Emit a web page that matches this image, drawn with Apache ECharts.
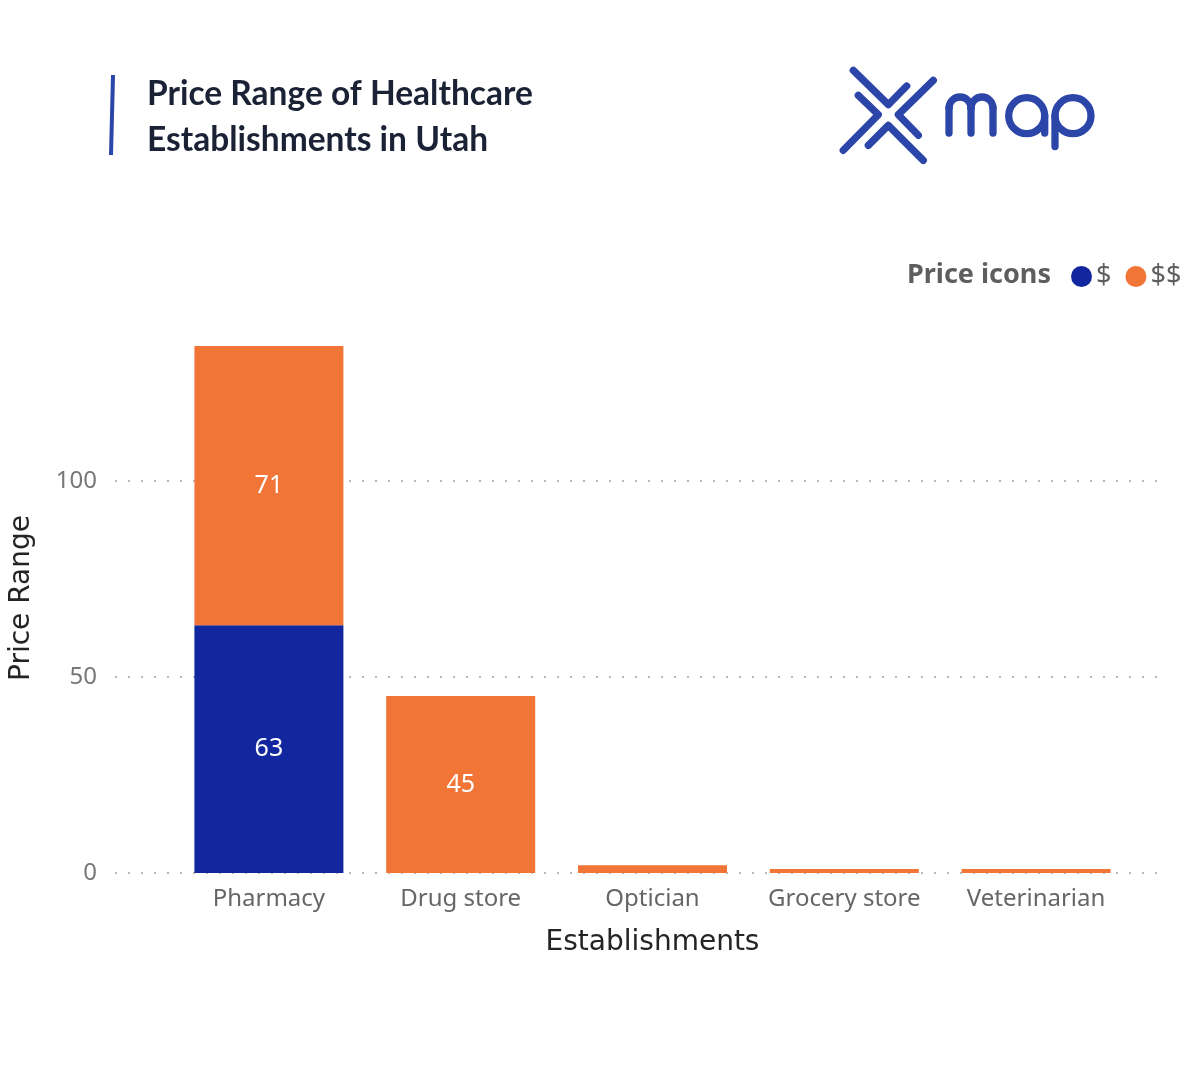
<!DOCTYPE html>
<html>
<head>
<meta charset="utf-8">
<script src="https://cdn.jsdelivr.net/npm/echarts@6/dist/echarts.min.js"></script>
<style>
html,body{margin:0;padding:0;background:#fff;}
#chart{width:1200px;height:1080px;}
</style>
</head>
<body>
<div id="chart"></div>
<script>
const categories = ['Pharmacy', 'Drug store', 'Optician', 'Grocery store', 'Veterinarian'];
const cheapValues = [63, null, null, null, null];      // "$"
const moderateValues = [71, 45, 2, 1, 1];              // "$$"
const yTickValues = [0, 50, 100];
const seriesNames = ['$', '$$'];

const BLUE = '#12279f';
const ORANGE = '#f07536';
const LOGO = '#2b45a8';

const chart = echarts.init(document.getElementById('chart'), null, {renderer: 'canvas'});

const labelFmt = p => (p.value != null && p.value >= 10) ? String(p.value) : '';
const logoStroke = {stroke: LOGO, lineWidth: 7.3, lineCap: 'round', lineJoin: 'round', fill: null};

chart.setOption({
  backgroundColor: '#ffffff',
  animation: false,
  grid: [
    {left: 173, right: 68, top: 346, bottom: 207},
    {left: 115, right: 40, top: 481, bottom: 207}
  ],
  legend: {
    data: seriesNames,
    left: 1066, top: 258,
    icon: 'circle', itemWidth: 21, itemHeight: 21, itemGap: 14,
    textStyle: {fontFamily: 'Noto Sans', fontSize: 27, color: '#605e5c', padding: [0,0,0,-1]}
  },
  xAxis: [
    {
      type: 'category', gridIndex: 0, data: categories,
      axisLine: {show: false}, axisTick: {show: false},
      axisLabel: {interval: 0, margin: 14, fontFamily: 'Noto Sans', fontSize: 24, color: '#666666'},
      name: 'Establishments', nameLocation: 'middle', nameGap: 56,
      nameTextStyle: {fontFamily: 'DejaVu Sans', fontSize: 28, color: '#252423'}
    },
    {type: 'value', gridIndex: 1, show: false}
  ],
  yAxis: [
    {
      type: 'value', gridIndex: 0, min: 0, max: 'dataMax',
      axisLine: {show: false}, axisTick: {show: false},
      axisLabel: {show: false}, splitLine: {show: false}
    },
    {
      type: 'value', gridIndex: 1, min: yTickValues[0], max: yTickValues[yTickValues.length - 1],
      interval: yTickValues[1] - yTickValues[0],
      axisLine: {show: false}, axisTick: {show: false},
      axisLabel: {margin: 18, fontFamily: 'Noto Sans', fontSize: 24, color: '#777777'},
      splitLine: {show: true, lineStyle: {color: '#b8b8b8', width: 2, type: [2, 11]}}
    }
  ],
  graphic: [
    {type: 'line', shape: {x1: 113, y1: 75, x2: 111, y2: 155}, style: {stroke: LOGO, lineWidth: 4}},
    {type: 'text', x: 147, y: 71, style: {
      text: 'Price Range of Healthcare\nEstablishments in Utah',
      font: 'bold 33.5px Lato', fill: '#1b2236', lineHeight: 46
    }},
    // logo "X"
    {type: 'polyline', shape: {points: [[853.3,70.3],[888.3,104.7],[906.7,86]]}, style: logoStroke},
    {type: 'polyline', shape: {points: [[858.3,95.3],[878.3,114.7],[843.3,150.3]]}, style: logoStroke},
    {type: 'polyline', shape: {points: [[933.3,80.3],[898.3,114.7],[918.3,135.3]]}, style: logoStroke},
    {type: 'polyline', shape: {points: [[868.3,145.3],[888.3,125.3],[923.3,160.3]]}, style: logoStroke},
    // logo "map"
    {type: 'arc', shape: {cx: 960, cy: 108, r: 11, startAngle: Math.PI, endAngle: 2 * Math.PI, clockwise: true}, style: logoStroke},
    {type: 'arc', shape: {cx: 982, cy: 108, r: 11, startAngle: Math.PI, endAngle: 2 * Math.PI, clockwise: true}, style: logoStroke},
    {type: 'line', shape: {x1: 949, y1: 108, x2: 949, y2: 133}, style: logoStroke},
    {type: 'line', shape: {x1: 971, y1: 108, x2: 971, y2: 133}, style: logoStroke},
    {type: 'line', shape: {x1: 993, y1: 108, x2: 993, y2: 133}, style: logoStroke},
    {type: 'circle', shape: {cx: 1026.7, cy: 115.7, r: 18}, style: logoStroke},
    {type: 'line', shape: {x1: 1044.7, y1: 115.7, x2: 1044.7, y2: 133}, style: logoStroke},
    {type: 'circle', shape: {cx: 1073, cy: 115.7, r: 18}, style: logoStroke},
    {type: 'line', shape: {x1: 1055, y1: 115.7, x2: 1055, y2: 146.5}, style: logoStroke},
    // legend heading
    {type: 'text', x: 907, y: 262, style: {text: 'Price icons', font: 'bold 27px "Noto Sans"', fill: '#605e5c'}},
    // y axis title
    {type: 'text', x: 22, y: 598, rotation: Math.PI / 2, style: {
      text: 'Price Range', font: '28px "DejaVu Sans"', fill: '#252423', align: 'center', verticalAlign: 'middle'
    }}
  ],
  series: [
    {
      name: seriesNames[0], type: 'bar', stack: 'price', xAxisIndex: 0, yAxisIndex: 0,
      data: cheapValues, barWidth: 149, itemStyle: {color: BLUE},
      label: {show: true, position: 'inside', formatter: labelFmt, color: '#ffffff', fontFamily: 'Noto Sans', fontSize: 25}
    },
    {
      name: seriesNames[1], type: 'bar', stack: 'price', xAxisIndex: 0, yAxisIndex: 0,
      data: moderateValues, barWidth: 149, itemStyle: {color: ORANGE},
      label: {show: true, position: 'inside', formatter: labelFmt, color: '#ffffff', fontFamily: 'Noto Sans', fontSize: 25}
    }
  ]
});
</script>
</body>
</html>
